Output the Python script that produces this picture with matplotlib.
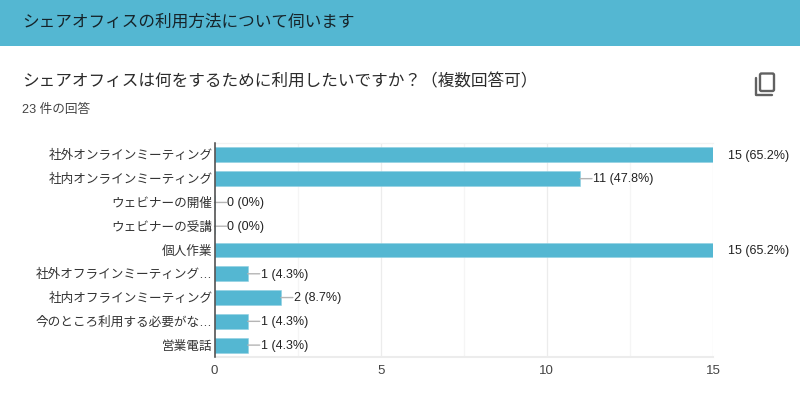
import matplotlib
matplotlib.use('Agg')
import matplotlib.pyplot as plt
from matplotlib.patches import FancyBboxPatch, Rectangle

plt.rcParams['font.family'] = ['Liberation Sans', 'Noto Sans CJK JP', 'DejaVu Sans']

categories = ['社外オンラインミーティング', '社内オンラインミーティング', 'ウェビナーの開催', 'ウェビナーの受講',
              '個人作業', '社外オフラインミーティング…', '社内オフラインミーティング',
              '今のところ利用する必要がな…', '営業電話']
counts = [15, 11, 0, 0, 15, 1, 2, 1, 1]
percents = ['65.2%', '47.8%', '0%', '0%', '65.2%', '4.3%', '8.7%', '4.3%', '4.3%']
x_ticks = [0, 5, 10, 15]
x_minor = [2.5, 7.5, 12.5]

header_text = 'シェアオフィスの利用方法について伺います'
question_text = 'シェアオフィスは何をするために利用したいですか？（複数回答可）'
answers_text = '23 件の回答'

W, H = 800, 418
TEAL = '#54b7d2'

fig = plt.figure(figsize=(W / 100, H / 100), dpi=100)

# page layer in pixel coordinates
bg = fig.add_axes([0, 0, 1, 1])
bg.set_xlim(0, W)
bg.set_ylim(H, 0)
bg.axis('off')
bg.add_patch(Rectangle((0, 0), W, 46, color=TEAL, lw=0))
bg.text(22, 22.5, header_text, fontsize=12, color='#16242a', va='center', ha='left')
bg.text(22, 81, question_text, fontsize=12, color='#2b2b2b', va='center', ha='left')
bg.text(22, 110, answers_text, fontsize=9.1, color='#444444', va='center', ha='left')

# copy icon
bg.add_patch(FancyBboxPatch((760, 73.5), 14, 17.5, boxstyle='round,pad=0,rounding_size=1.5',
                            fc='none', ec='#616161', lw=1.7))
bg.plot([756, 756, 772], [78, 95, 95], color='#616161', lw=1.7, solid_capstyle='round')

# chart
ax = fig.add_axes([214.5 / W, 1 - 357 / H, (713 - 214.5) / W, (357 - 143) / H])
y = list(range(len(categories)))
ax.barh(y, counts, height=0.63, color=TEAL, edgecolor='#8fd0e2', linewidth=0.4, zorder=3)
ax.set_xlim(0, 15)
ax.set_ylim(len(categories) - 0.5, -0.5)

for v in x_ticks[1:]:
    ax.axvline(v, color='#ececec', lw=0.9, zorder=1)
for v in x_minor:
    ax.axvline(v, color='#f5f5f5', lw=0.9, zorder=1)
ax.axhline(len(categories) - 0.5, color='#ececec', lw=1.5, zorder=1, clip_on=False)
ax.axhline(-0.5, color='#f3f3f3', lw=0.9, zorder=1, clip_on=False)

for i, (c, p) in enumerate(zip(counts, percents)):
    label = f'{c} ({p})'
    offset = 10.5 if c == max(counts) else 9.2
    ax.annotate(label, (c, i), xytext=(offset, 0.5), textcoords='offset points', fontsize=9,
                color='#222222', va='center_baseline', ha='left', annotation_clip=False)
    # leader line, the longest bars have none
    if c != max(counts):
        ax.annotate('', (c, i), xytext=(8.6, 0), textcoords='offset points', annotation_clip=False,
                    arrowprops=dict(arrowstyle='-', color='#b5b5b5', lw=1.0, shrinkA=0, shrinkB=0))

ax.set_yticks(y)
ax.set_yticklabels(categories, fontsize=9.1, color='#333333')
ax.set_xticks(x_ticks)
ax.set_xticklabels([str(v) for v in x_ticks], fontsize=9.5, color='#444444')
ax.tick_params(axis='both', length=0)
ax.tick_params(axis='y', pad=1.5)
ax.tick_params(axis='x', pad=6)
for side in ['top', 'right', 'bottom']:
    ax.spines[side].set_visible(False)
ax.spines['left'].set_color('#444444')
ax.spines['left'].set_linewidth(1.1)
ax.spines['left'].set_zorder(5)

fig.savefig('out.png', dpi=100)
